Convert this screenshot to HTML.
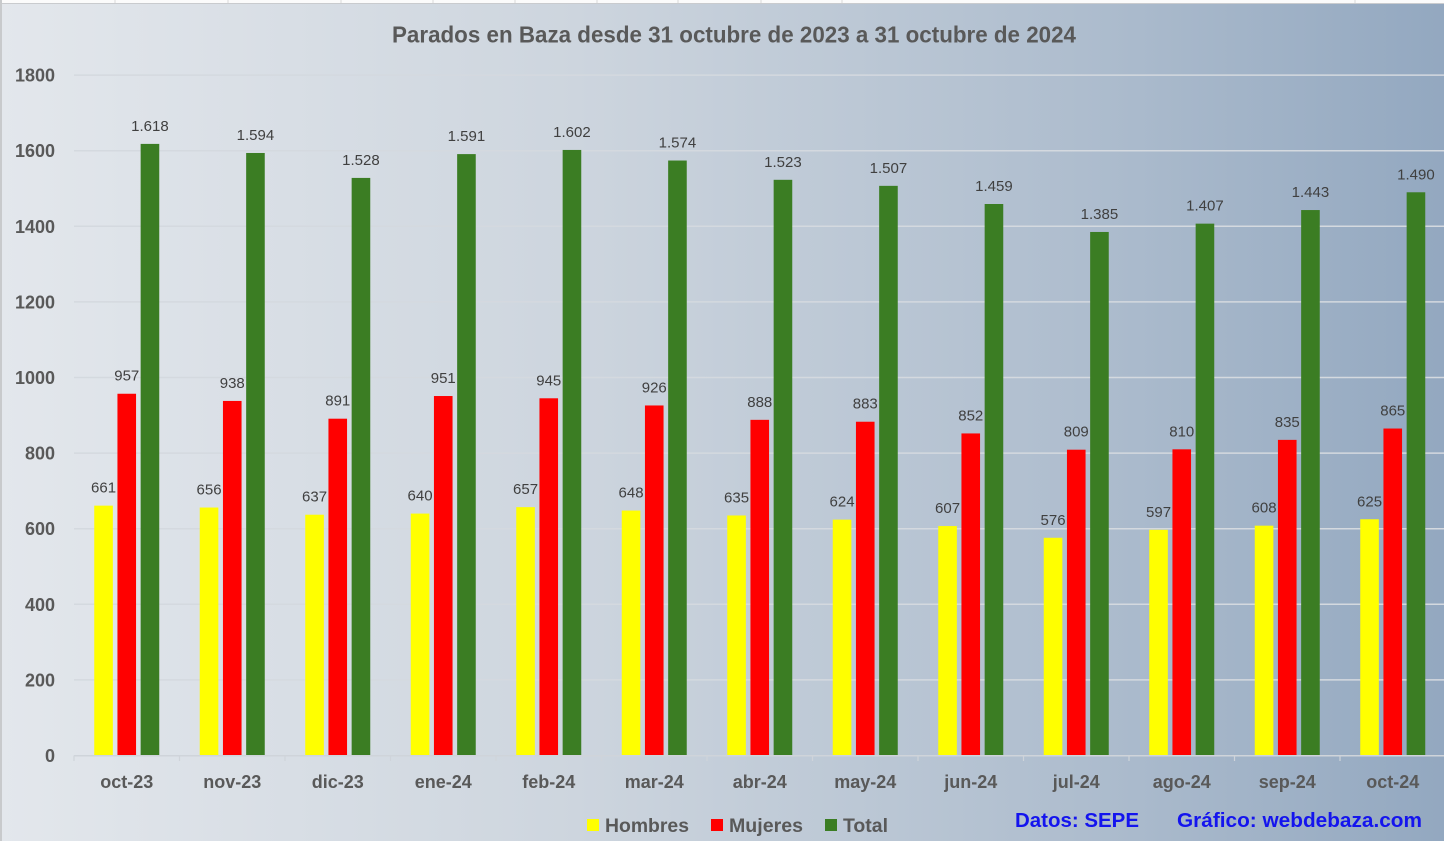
<!DOCTYPE html>
<html>
<head>
<meta charset="utf-8">
<style>
  html,body{margin:0;padding:0;width:1444px;height:841px;overflow:hidden;}
  svg{display:block;}
  .yl{font-family:"Liberation Sans",sans-serif;font-weight:bold;font-size:18px;fill:#595959;text-anchor:end;}
  .xl{font-family:"Liberation Sans",sans-serif;font-weight:bold;font-size:18px;fill:#595959;text-anchor:middle;}
  .dl{font-family:"Liberation Sans",sans-serif;font-size:15px;fill:#404040;text-anchor:middle;}
  .lg{font-family:"Liberation Sans",sans-serif;font-weight:bold;font-size:19.5px;fill:#595959;}
  .src{font-family:"Liberation Sans",sans-serif;font-weight:bold;font-size:20px;fill:#1414ee;}
</style>
</head>
<body>
<svg width="1444" height="841" viewBox="0 0 1444 841" xmlns="http://www.w3.org/2000/svg">
  <defs>
    <linearGradient id="bg" x1="0" y1="0" x2="1" y2="0">
      <stop offset="0" stop-color="#e3e7ec"/>
      <stop offset="0.4" stop-color="#cdd5de"/>
      <stop offset="0.75" stop-color="#aebdce"/>
      <stop offset="1" stop-color="#93a8c0"/>
    </linearGradient>
  </defs>
  <rect x="0" y="0" width="1444" height="841" fill="url(#bg)"/>
  <!-- top strip -->
  <rect x="0" y="0" width="1444" height="3" fill="#fbfbfb"/>
  <line x1="0" y1="3.5" x2="1444" y2="3.5" stroke="#c9cbce" stroke-width="1"/>
  <g stroke="#d8d8d8" stroke-width="1">
    <line x1="115" y1="0" x2="115" y2="3"/><line x1="228" y1="0" x2="228" y2="3"/><line x1="341" y1="0" x2="341" y2="3"/>
    <line x1="433" y1="0" x2="433" y2="3"/><line x1="515" y1="0" x2="515" y2="3"/><line x1="597" y1="0" x2="597" y2="3"/>
    <line x1="678" y1="0" x2="678" y2="3"/><line x1="761" y1="0" x2="761" y2="3"/><line x1="842" y1="0" x2="842" y2="3"/>
    <line x1="1355" y1="0" x2="1355" y2="3"/>
  </g>
  <rect x="0" y="0" width="2" height="841" fill="#c8cacc"/>

  <!-- title -->
  <text x="392" y="42.5" textLength="684" lengthAdjust="spacingAndGlyphs" style="font-family:'Liberation Sans',sans-serif;font-weight:bold;font-size:23px;fill:#595959;">Parados en Baza desde 31 octubre de 2023 a 31 octubre de 2024</text>

  <!-- gridlines -->
  <g stroke="#d4d9df" stroke-width="1.5">
    <line x1="74" y1="75.1" x2="1444" y2="75.1"/>
    <line x1="74" y1="150.7" x2="1444" y2="150.7"/>
    <line x1="74" y1="226.3" x2="1444" y2="226.3"/>
    <line x1="74" y1="301.9" x2="1444" y2="301.9"/>
    <line x1="74" y1="377.5" x2="1444" y2="377.5"/>
    <line x1="74" y1="453.1" x2="1444" y2="453.1"/>
    <line x1="74" y1="528.7" x2="1444" y2="528.7"/>
    <line x1="74" y1="604.3" x2="1444" y2="604.3"/>
    <line x1="74" y1="679.9" x2="1444" y2="679.9"/>
  </g>

  <!-- y labels -->
  <text class="yl" x="55" y="81.6">1800</text>
  <text class="yl" x="55" y="157.2">1600</text>
  <text class="yl" x="55" y="232.8">1400</text>
  <text class="yl" x="55" y="308.4">1200</text>
  <text class="yl" x="55" y="384">1000</text>
  <text class="yl" x="55" y="459.6">800</text>
  <text class="yl" x="55" y="535.2">600</text>
  <text class="yl" x="55" y="610.8">400</text>
  <text class="yl" x="55" y="686.4">200</text>
  <text class="yl" x="55" y="762">0</text>

  <!-- bars -->
  <g transform="translate(126.75,0)">
    <rect x="-32.5" y="505.64" width="18.6" height="249.86" fill="#ffff00"/>
    <rect x="-9.3" y="393.75" width="18.6" height="361.75" fill="#ff0000"/>
    <rect x="13.9" y="143.9" width="18.6" height="611.6" fill="#3b7d23"/>
    <text class="dl" x="-23.2" y="492.6">661</text>
    <text class="dl" x="0" y="380.7">957</text>
    <text class="dl" x="23.2" y="130.9">1.618</text>
  </g>
  <g transform="translate(232.25,0)">
    <rect x="-32.5" y="507.53" width="18.6" height="247.97" fill="#ffff00"/>
    <rect x="-9.3" y="400.94" width="18.6" height="354.56" fill="#ff0000"/>
    <rect x="13.9" y="152.97" width="18.6" height="602.53" fill="#3b7d23"/>
    <text class="dl" x="-23.2" y="494.5">656</text>
    <text class="dl" x="0" y="387.9">938</text>
    <text class="dl" x="23.2" y="140">1.594</text>
  </g>
  <g transform="translate(337.75,0)">
    <rect x="-32.5" y="514.71" width="18.6" height="240.79" fill="#ffff00"/>
    <rect x="-9.3" y="418.7" width="18.6" height="336.8" fill="#ff0000"/>
    <rect x="13.9" y="177.92" width="18.6" height="577.58" fill="#3b7d23"/>
    <text class="dl" x="-23.2" y="501.7">637</text>
    <text class="dl" x="0" y="405.7">891</text>
    <text class="dl" x="23.2" y="164.9">1.528</text>
  </g>
  <g transform="translate(443.25,0)">
    <rect x="-32.5" y="513.58" width="18.6" height="241.92" fill="#ffff00"/>
    <rect x="-9.3" y="396.02" width="18.6" height="359.48" fill="#ff0000"/>
    <rect x="13.9" y="154.1" width="18.6" height="601.4" fill="#3b7d23"/>
    <text class="dl" x="-23.2" y="500.6">640</text>
    <text class="dl" x="0" y="383">951</text>
    <text class="dl" x="23.2" y="141.1">1.591</text>
  </g>
  <g transform="translate(548.75,0)">
    <rect x="-32.5" y="507.15" width="18.6" height="248.35" fill="#ffff00"/>
    <rect x="-9.3" y="398.29" width="18.6" height="357.21" fill="#ff0000"/>
    <rect x="13.9" y="149.94" width="18.6" height="605.56" fill="#3b7d23"/>
    <text class="dl" x="-23.2" y="494.2">657</text>
    <text class="dl" x="0" y="385.3">945</text>
    <text class="dl" x="23.2" y="136.9">1.602</text>
  </g>
  <g transform="translate(654.25,0)">
    <rect x="-32.5" y="510.56" width="18.6" height="244.94" fill="#ffff00"/>
    <rect x="-9.3" y="405.47" width="18.6" height="350.03" fill="#ff0000"/>
    <rect x="13.9" y="160.53" width="18.6" height="594.97" fill="#3b7d23"/>
    <text class="dl" x="-23.2" y="497.6">648</text>
    <text class="dl" x="0" y="392.5">926</text>
    <text class="dl" x="23.2" y="147.5">1.574</text>
  </g>
  <g transform="translate(759.75,0)">
    <rect x="-32.5" y="515.47" width="18.6" height="240.03" fill="#ffff00"/>
    <rect x="-9.3" y="419.84" width="18.6" height="335.66" fill="#ff0000"/>
    <rect x="13.9" y="179.81" width="18.6" height="575.69" fill="#3b7d23"/>
    <text class="dl" x="-23.2" y="502.5">635</text>
    <text class="dl" x="0" y="406.8">888</text>
    <text class="dl" x="23.2" y="166.8">1.523</text>
  </g>
  <g transform="translate(865.25,0)">
    <rect x="-32.5" y="519.63" width="18.6" height="235.87" fill="#ffff00"/>
    <rect x="-9.3" y="421.73" width="18.6" height="333.77" fill="#ff0000"/>
    <rect x="13.9" y="185.85" width="18.6" height="569.65" fill="#3b7d23"/>
    <text class="dl" x="-23.2" y="506.6">624</text>
    <text class="dl" x="0" y="408.7">883</text>
    <text class="dl" x="23.2" y="172.9">1.507</text>
  </g>
  <g transform="translate(970.75,0)">
    <rect x="-32.5" y="526.05" width="18.6" height="229.45" fill="#ffff00"/>
    <rect x="-9.3" y="433.44" width="18.6" height="322.06" fill="#ff0000"/>
    <rect x="13.9" y="204" width="18.6" height="551.5" fill="#3b7d23"/>
    <text class="dl" x="-23.2" y="513">607</text>
    <text class="dl" x="0" y="420.4">852</text>
    <text class="dl" x="23.2" y="191">1.459</text>
  </g>
  <g transform="translate(1076.25,0)">
    <rect x="-32.5" y="537.77" width="18.6" height="217.73" fill="#ffff00"/>
    <rect x="-9.3" y="449.7" width="18.6" height="305.8" fill="#ff0000"/>
    <rect x="13.9" y="231.97" width="18.6" height="523.53" fill="#3b7d23"/>
    <text class="dl" x="-23.2" y="524.8">576</text>
    <text class="dl" x="0" y="436.7">809</text>
    <text class="dl" x="23.2" y="219">1.385</text>
  </g>
  <g transform="translate(1181.75,0)">
    <rect x="-32.5" y="529.83" width="18.6" height="225.67" fill="#ffff00"/>
    <rect x="-9.3" y="449.32" width="18.6" height="306.18" fill="#ff0000"/>
    <rect x="13.9" y="223.65" width="18.6" height="531.85" fill="#3b7d23"/>
    <text class="dl" x="-23.2" y="516.8">597</text>
    <text class="dl" x="0" y="436.3">810</text>
    <text class="dl" x="23.2" y="210.7">1.407</text>
  </g>
  <g transform="translate(1287.25,0)">
    <rect x="-32.5" y="525.68" width="18.6" height="229.82" fill="#ffff00"/>
    <rect x="-9.3" y="439.87" width="18.6" height="315.63" fill="#ff0000"/>
    <rect x="13.9" y="210.05" width="18.6" height="545.45" fill="#3b7d23"/>
    <text class="dl" x="-23.2" y="512.7">608</text>
    <text class="dl" x="0" y="426.9">835</text>
    <text class="dl" x="23.2" y="197.1">1.443</text>
  </g>
  <g transform="translate(1392.75,0)">
    <rect x="-32.5" y="519.25" width="18.6" height="236.25" fill="#ffff00"/>
    <rect x="-9.3" y="428.53" width="18.6" height="326.97" fill="#ff0000"/>
    <rect x="13.9" y="192.28" width="18.6" height="563.22" fill="#3b7d23"/>
    <text class="dl" x="-23.2" y="506.3">625</text>
    <text class="dl" x="0" y="415.5">865</text>
    <text class="dl" x="23.2" y="179.3">1.490</text>
  </g>

  <!-- x axis -->
  <line x1="74" y1="755.8" x2="1444" y2="755.8" stroke="#cfd4da" stroke-width="1.5"/>
  <g stroke="#cfd4da" stroke-width="1.2">
    <line x1="74" y1="755.5" x2="74" y2="761"/>
    <line x1="179.5" y1="755.5" x2="179.5" y2="761"/>
    <line x1="285" y1="755.5" x2="285" y2="761"/>
    <line x1="390.5" y1="755.5" x2="390.5" y2="761"/>
    <line x1="496" y1="755.5" x2="496" y2="761"/>
    <line x1="601.5" y1="755.5" x2="601.5" y2="761"/>
    <line x1="707" y1="755.5" x2="707" y2="761"/>
    <line x1="812.5" y1="755.5" x2="812.5" y2="761"/>
    <line x1="918" y1="755.5" x2="918" y2="761"/>
    <line x1="1023.5" y1="755.5" x2="1023.5" y2="761"/>
    <line x1="1129" y1="755.5" x2="1129" y2="761"/>
    <line x1="1234.5" y1="755.5" x2="1234.5" y2="761"/>
    <line x1="1340" y1="755.5" x2="1340" y2="761"/>
  </g>

  <!-- x labels -->
  <text class="xl" x="126.75" y="788">oct-23</text>
  <text class="xl" x="232.25" y="788">nov-23</text>
  <text class="xl" x="337.75" y="788">dic-23</text>
  <text class="xl" x="443.25" y="788">ene-24</text>
  <text class="xl" x="548.75" y="788">feb-24</text>
  <text class="xl" x="654.25" y="788">mar-24</text>
  <text class="xl" x="759.75" y="788">abr-24</text>
  <text class="xl" x="865.25" y="788">may-24</text>
  <text class="xl" x="970.75" y="788">jun-24</text>
  <text class="xl" x="1076.25" y="788">jul-24</text>
  <text class="xl" x="1181.75" y="788">ago-24</text>
  <text class="xl" x="1287.25" y="788">sep-24</text>
  <text class="xl" x="1392.75" y="788">oct-24</text>

  <!-- legend -->
  <rect x="587" y="819" width="12" height="12" fill="#ffff00"/>
  <text class="lg" x="605" y="832" textLength="84" lengthAdjust="spacingAndGlyphs">Hombres</text>
  <rect x="711" y="819" width="12" height="12" fill="#ff0000"/>
  <text class="lg" x="729" y="832" textLength="74" lengthAdjust="spacingAndGlyphs">Mujeres</text>
  <rect x="825" y="819" width="12" height="12" fill="#3b7d23"/>
  <text class="lg" x="843" y="832" textLength="45" lengthAdjust="spacingAndGlyphs">Total</text>

  <!-- source -->
  <text class="src" x="1015" y="827" textLength="124" lengthAdjust="spacingAndGlyphs">Datos: SEPE</text>
  <text class="src" x="1177" y="827" textLength="245" lengthAdjust="spacingAndGlyphs">Gráfico: webdebaza.com</text>
</svg>
</body>
</html>
